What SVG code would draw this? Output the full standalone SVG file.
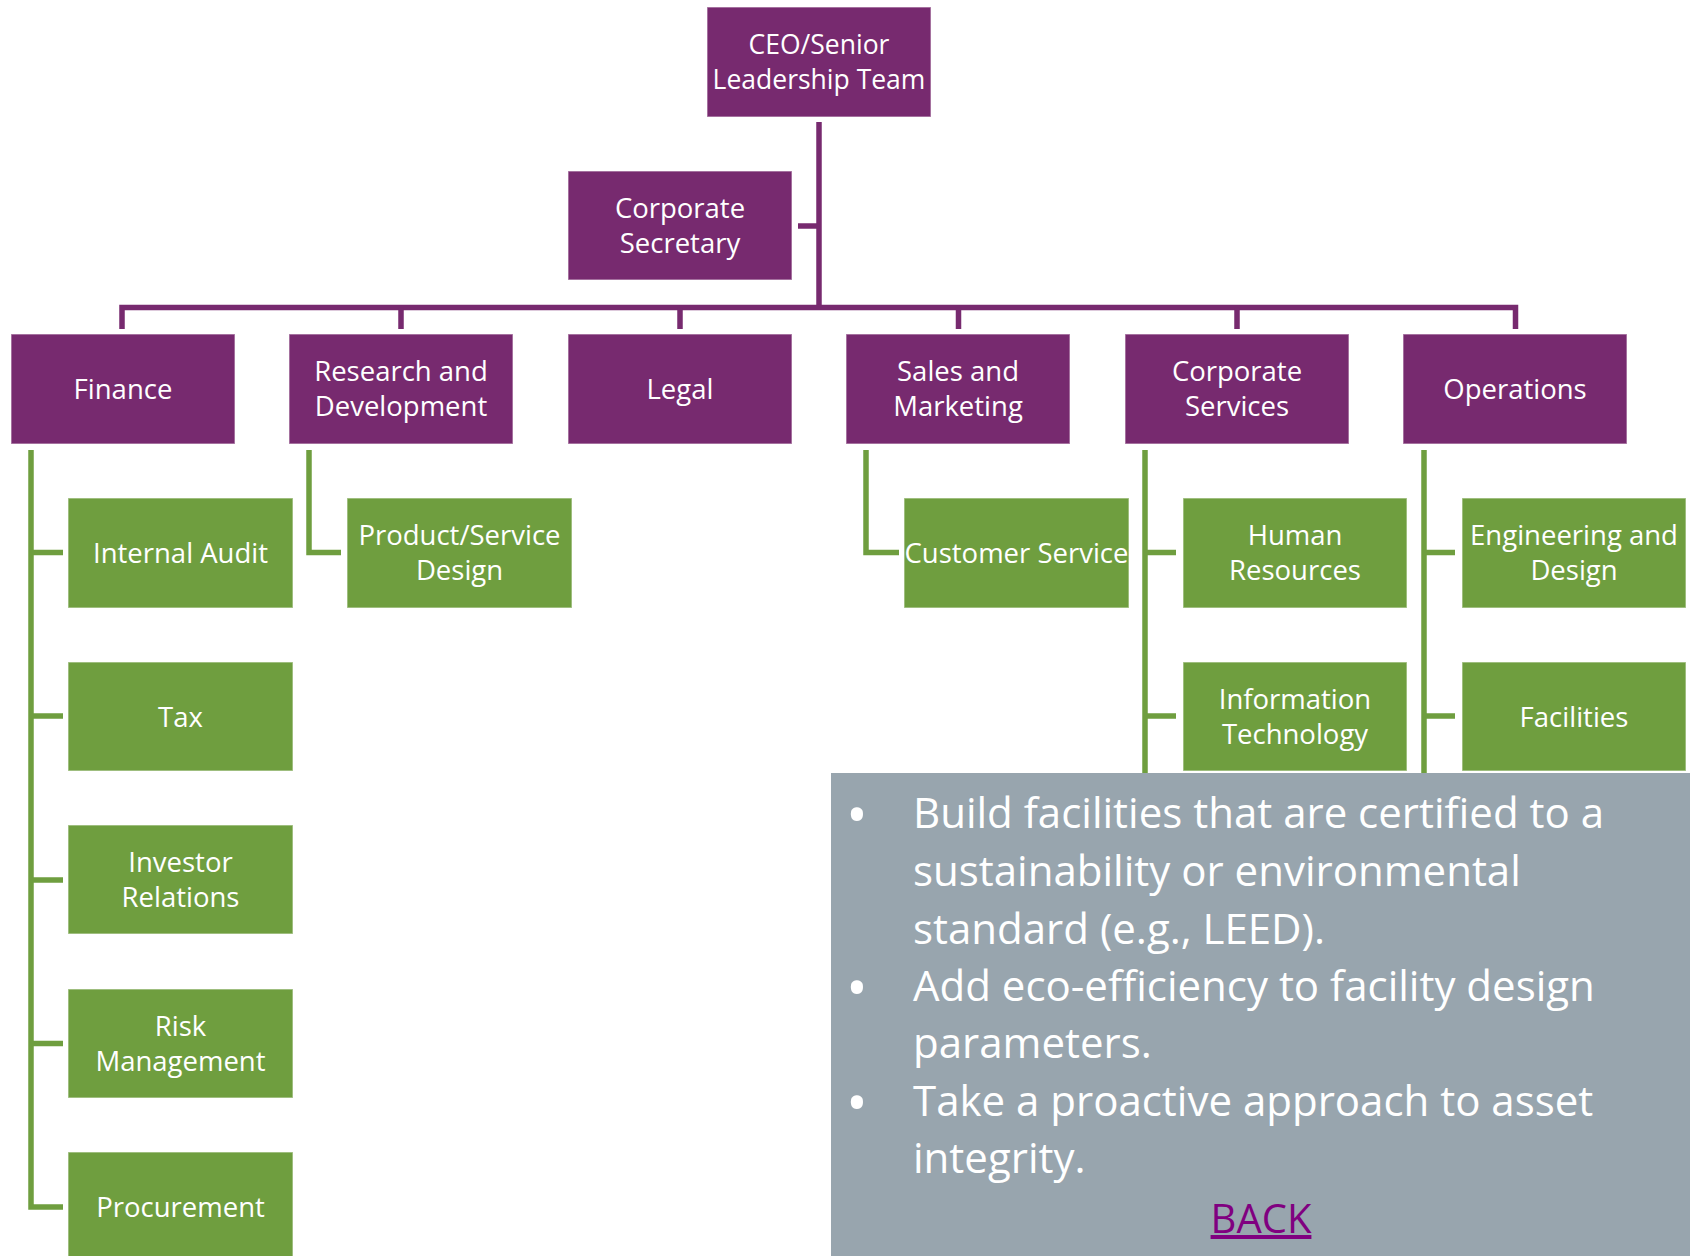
<svg xmlns="http://www.w3.org/2000/svg" width="1690" height="1256" viewBox="0 0 1690 1256">
<style>
.p{fill:#772A6F;stroke:#ffffff;stroke-opacity:0.45;stroke-width:1.5}
.g{fill:#6F9E3F;stroke:#ffffff;stroke-opacity:0.45;stroke-width:1.5}
.t{font-family:"Open Sans","Noto Sans",sans-serif;font-size:27.5px;fill:#ffffff;text-anchor:middle}
.cp{fill:none;stroke:#772A6F;stroke-width:5.5}
.cg{fill:none;stroke:#6F9E3F;stroke-width:5.5}
.b{font-family:"Open Sans","Noto Sans",sans-serif;font-size:42px;fill:#ffffff}
.bu{font-family:"Open Sans","Noto Sans",sans-serif;font-size:58px;fill:#ffffff}
</style>
<rect width="1690" height="1256" fill="#ffffff"/>
<g id="connectors">
<path class="cp" d="M819,122 V307.5"/>
<path class="cp" d="M798,226 H819"/>
<path class="cp" d="M122,329 V307.5 H1515.5 V329"/>
<path class="cp" d="M401,307.5 V329 M680,307.5 V329 M958.5,307.5 V329 M1237,307.5 V329"/>
<path class="cg" d="M31,450 V1207 H63"/>
<path class="cg" d="M31,552.5 H63 M31,716 H63 M31,880 H63 M31,1043.5 H63"/>
<path class="cg" d="M309,450 V552.5 H341"/>
<path class="cg" d="M866,450 V552.5 H899"/>
<path class="cg" d="M1145,450 V790 M1145,552.5 H1176 M1145,716 H1176"/>
<path class="cg" d="M1424,450 V790 M1424,552.5 H1455 M1424,716 H1455"/>
</g>
<g id="ceo"><rect class="p" x="707" y="7" width="224" height="110"/><text class="t" x="819" y="54" style="font-size:26.5px">CEO/Senior</text><text class="t" x="819" y="89" style="font-size:26.5px">Leadership Team</text></g>
<g id="corp-secretary"><rect class="p" x="568" y="171" width="224" height="109"/><text class="t" x="680" y="217.5">Corporate</text><text class="t" x="680" y="252.5">Secretary</text></g>
<g id="finance"><rect class="p" x="11" y="334" width="224" height="110"/><text class="t" x="123" y="399">Finance</text></g>
<g id="rnd"><rect class="p" x="289" y="334" width="224" height="110"/><text class="t" x="401" y="381">Research and</text><text class="t" x="401" y="416">Development</text></g>
<g id="legal"><rect class="p" x="568" y="334" width="224" height="110"/><text class="t" x="680" y="399">Legal</text></g>
<g id="sales"><rect class="p" x="846" y="334" width="224" height="110"/><text class="t" x="958" y="381">Sales and</text><text class="t" x="958" y="416">Marketing</text></g>
<g id="corp-services"><rect class="p" x="1125" y="334" width="224" height="110"/><text class="t" x="1237" y="381">Corporate</text><text class="t" x="1237" y="416">Services</text></g>
<g id="operations"><rect class="p" x="1403" y="334" width="224" height="110"/><text class="t" x="1515" y="399">Operations</text></g>
<g id="internal-audit"><rect class="g" x="68" y="498" width="225" height="110"/><text class="t" x="180.5" y="563">Internal Audit</text></g>
<g id="tax"><rect class="g" x="68" y="662" width="225" height="109"/><text class="t" x="180.5" y="726.5">Tax</text></g>
<g id="investor-relations"><rect class="g" x="68" y="825" width="225" height="109"/><text class="t" x="180.5" y="871.5">Investor</text><text class="t" x="180.5" y="906.5">Relations</text></g>
<g id="risk-management"><rect class="g" x="68" y="989" width="225" height="109"/><text class="t" x="180.5" y="1035.5">Risk</text><text class="t" x="180.5" y="1070.5">Management</text></g>
<g id="procurement"><rect class="g" x="68" y="1152" width="225" height="110"/><text class="t" x="180.5" y="1216.5">Procurement</text></g>
<g id="product-service-design"><rect class="g" x="347" y="498" width="225" height="110"/><text class="t" x="459.5" y="545">Product/Service</text><text class="t" x="459.5" y="580">Design</text></g>
<g id="customer-service"><rect class="g" x="904" y="498" width="225" height="110"/><text class="t" x="1016.5" y="563">Customer Service</text></g>
<g id="human-resources"><rect class="g" x="1183" y="498" width="224" height="110"/><text class="t" x="1295" y="545">Human</text><text class="t" x="1295" y="580">Resources</text></g>
<g id="information-technology"><rect class="g" x="1183" y="662" width="224" height="109"/><text class="t" x="1295" y="708.5">Information</text><text class="t" x="1295" y="743.5">Technology</text></g>
<g id="engineering-design"><rect class="g" x="1462" y="498" width="224" height="110"/><text class="t" x="1574" y="545">Engineering and</text><text class="t" x="1574" y="580">Design</text></g>
<g id="facilities"><rect class="g" x="1462" y="662" width="224" height="109"/><text class="t" x="1574" y="726.5">Facilities</text></g>
<g id="notes">
<rect x="831" y="773" width="859" height="483" fill="#98A5AE"/>
<text class="bu" x="846" y="836">•</text>
<text class="b" x="913" y="828">Build facilities that are certified to a</text>
<text class="b" x="913" y="886">sustainability or environmental</text>
<text class="b" x="913" y="944">standard (e.g., LEED).</text>
<text class="bu" x="846" y="1009">•</text>
<text class="b" x="913" y="1001">Add eco-efficiency to facility design</text>
<text class="b" x="913" y="1058">parameters.</text>
<text class="bu" x="846" y="1124">•</text>
<text class="b" x="913" y="1116">Take a proactive approach to asset</text>
<text class="b" x="913" y="1173">integrity.</text>
<text x="1261" y="1233" font-family="Open Sans, Noto Sans, sans-serif" font-size="40" fill="#800080" text-anchor="middle" text-decoration="underline">BACK</text>
</g>
</svg>
